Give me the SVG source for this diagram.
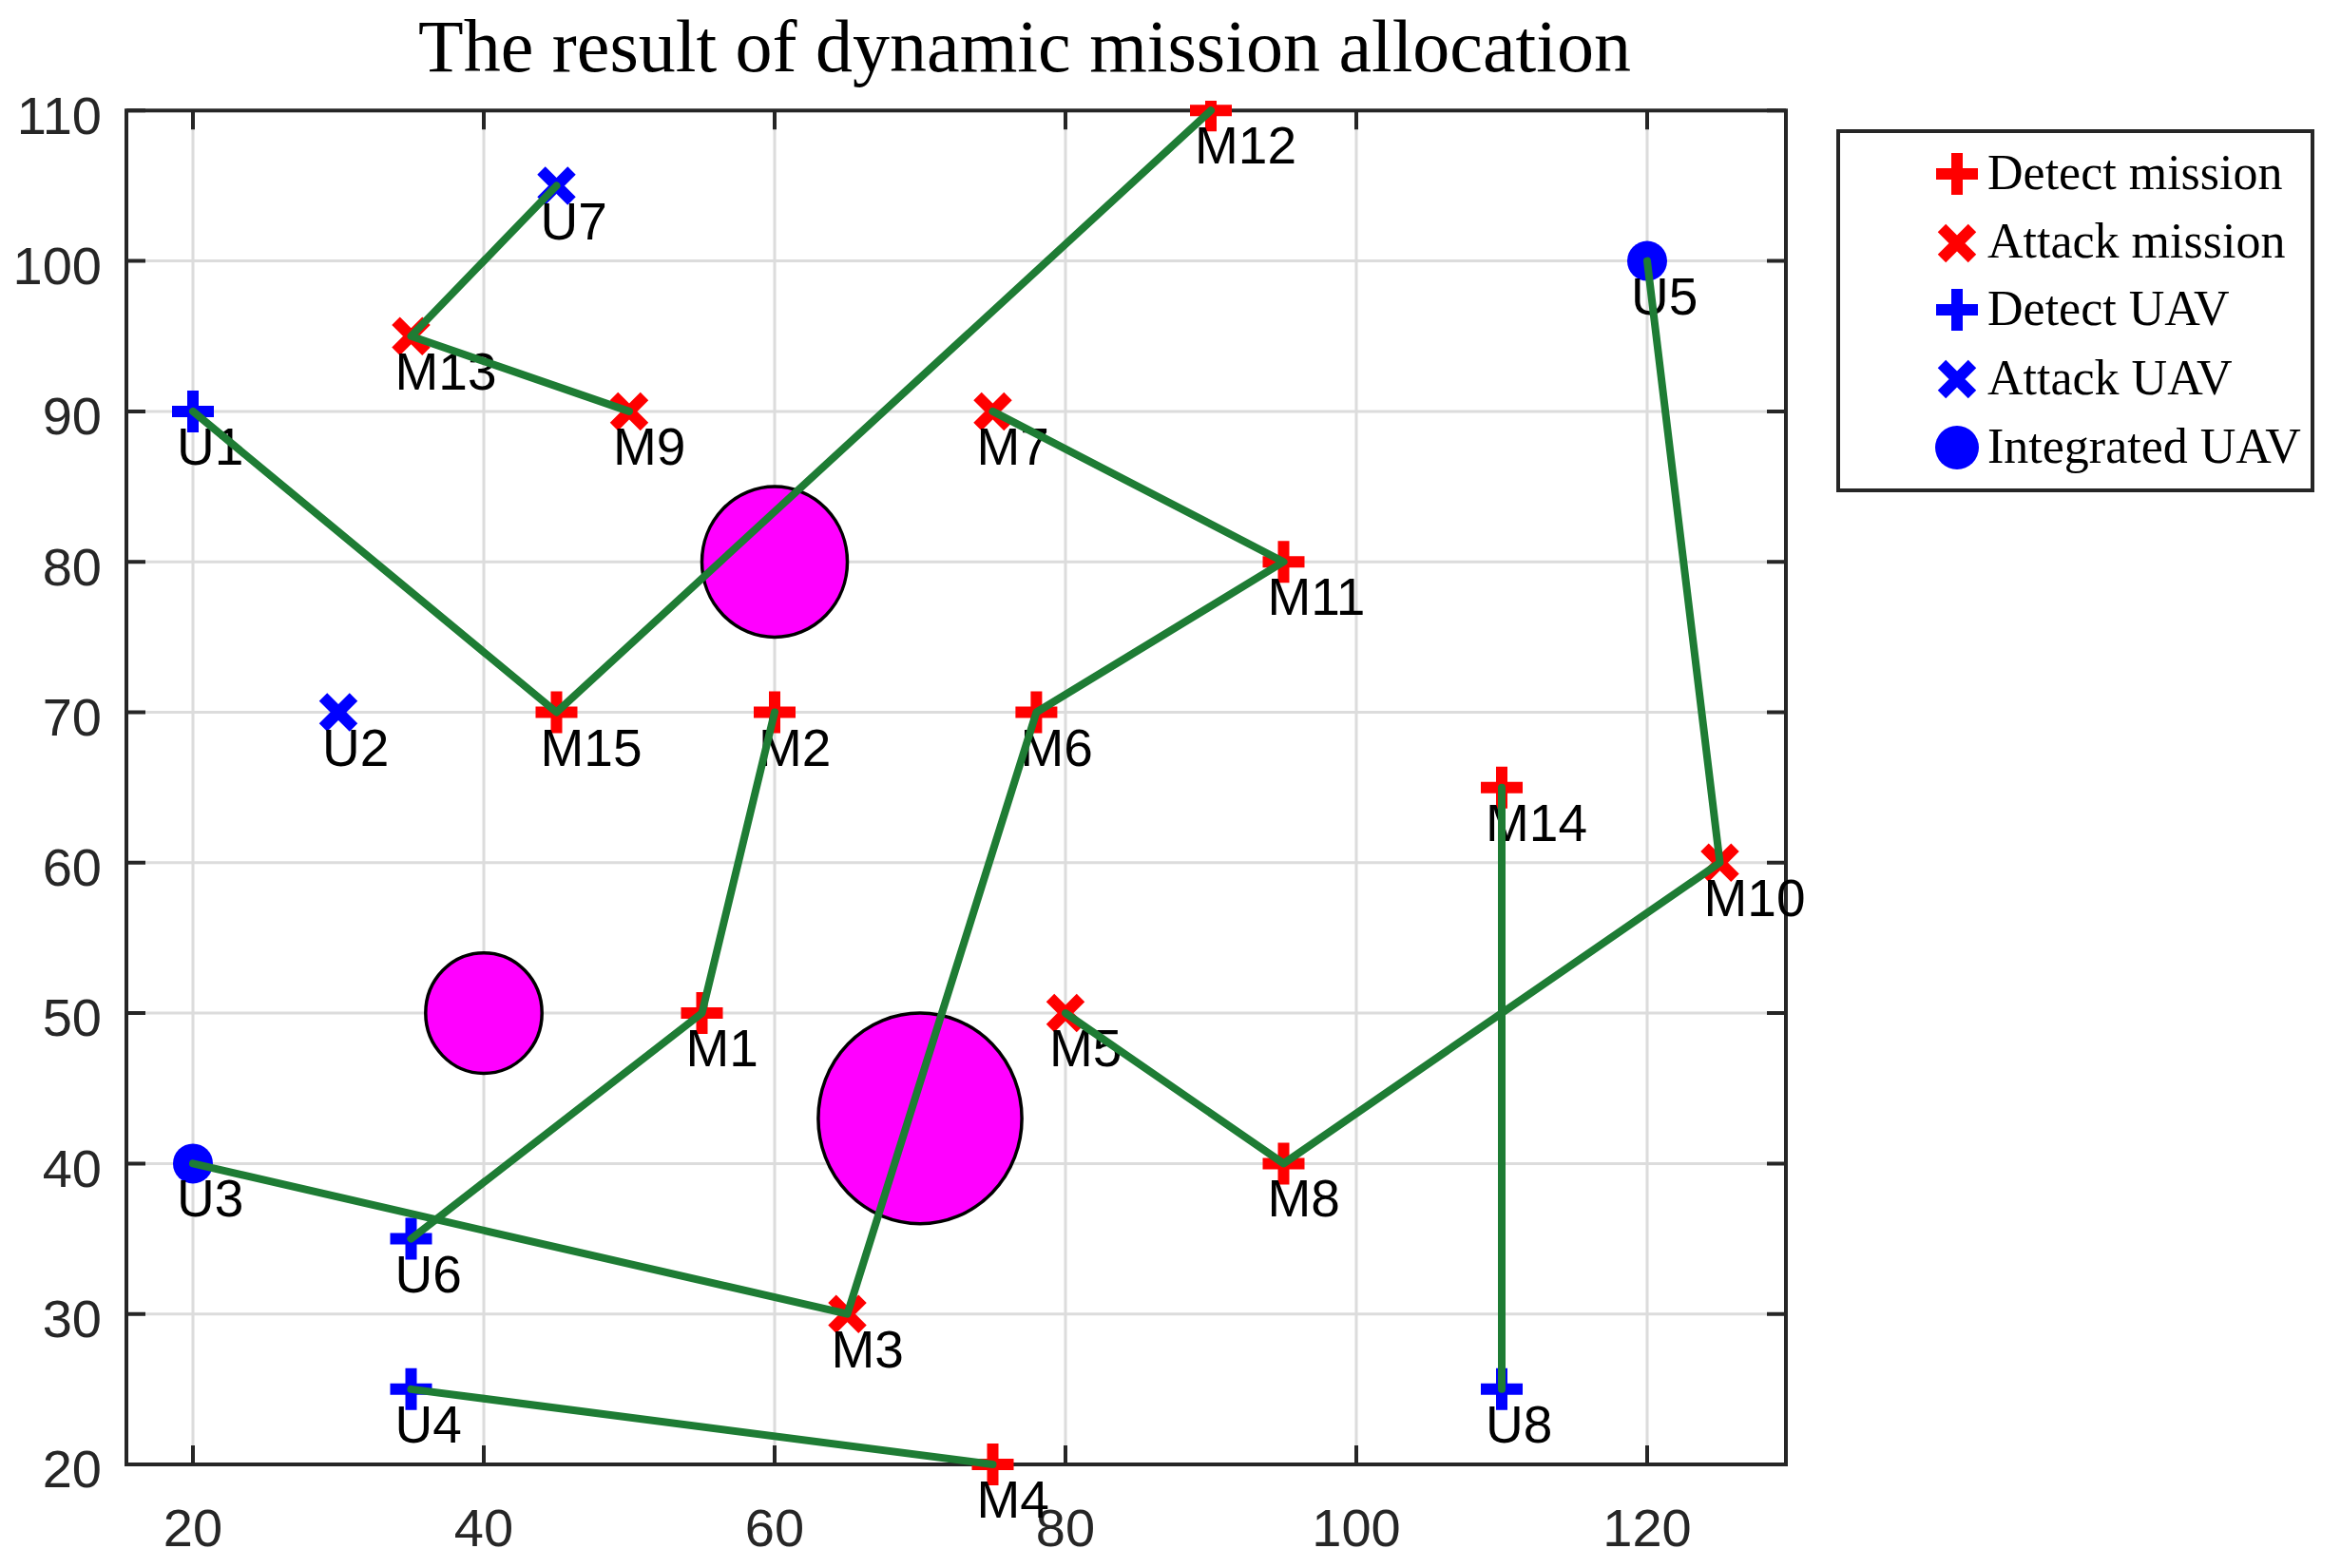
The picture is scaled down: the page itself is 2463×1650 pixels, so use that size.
<svg xmlns="http://www.w3.org/2000/svg" xmlns:xlink="http://www.w3.org/1999/xlink" width="2463" height="1650" viewBox="0 0 2463 1650">
<style>
.grid{stroke:#dcdcdc;stroke-width:3;fill:none}
.axis{stroke:#262626;stroke-width:4;fill:none}
.tick{stroke:#262626;stroke-width:4}
.tl{font-family:"Liberation Sans",Arial,sans-serif;font-size:56px;fill:#262626}
.lbl{font-family:"Liberation Sans",Arial,sans-serif;font-size:55px;fill:#000}
.title{font-family:"Liberation Serif","Times New Roman",serif;font-size:78px;fill:#000}
.leg{font-family:"Liberation Serif","Times New Roman",serif;font-size:52px;fill:#000}
.red{stroke:#ff0000;fill:#ff0000}
.blue{stroke:#0000ff;fill:#0000ff}
.obs{fill:#ff00ff;stroke:#000;stroke-width:3.5}
.route{stroke:#1e7c34;stroke-width:8;fill:none;stroke-linejoin:round;stroke-linecap:round}
</style>
<defs>
<g id="plus"><path d="M-22,0H22M0,-22V22" stroke-width="12" fill="none"/></g>
<g id="cross"><path d="M-16,-16L16,16M-16,16L16,-16" stroke-width="12" fill="none"/></g>
<g id="dot"><circle r="21" stroke="none"/></g>
<clipPath id="clipTop"><rect x="0" y="106" width="2463" height="1600"/></clipPath>
</defs>
<rect width="2463" height="1650" fill="#fff"/>
<text class="title" x="1078" y="75" text-anchor="middle">The result of dynamic mission allocation</text>
<g id="grid">
<path class="grid" d="M203,116V1541M509,116V1541M815,116V1541M1121,116V1541M1427,116V1541M1733,116V1541"/>
<path class="grid" d="M133,1382.7H1879M133,1224.4H1879M133,1066.1H1879M133,907.8H1879M133,749.5H1879M133,591.2H1879M133,432.9H1879M133,274.6H1879"/>
</g>
<g id="axes">
<rect class="axis" x="133" y="116.3" width="1746" height="1424.7"/>
<path class="tick" d="M203,1541v-20M509,1541v-20M815,1541v-20M1121,1541v-20M1427,1541v-20M1733,1541v-20M203,116.3v20M509,116.3v20M815,116.3v20M1121,116.3v20M1427,116.3v20M1733,116.3v20"/>
<path class="tick" d="M133,1382.7h20M133,1224.4h20M133,1066.1h20M133,907.8h20M133,749.5h20M133,591.2h20M133,432.9h20M133,274.6h20M133,116.3h20M133,1541h20M1879,1382.7h-20M1879,1224.4h-20M1879,1066.1h-20M1879,907.8h-20M1879,749.5h-20M1879,591.2h-20M1879,432.9h-20M1879,274.6h-20M1879,116.3h-20M1879,1541h-20"/>
<g class="tl" text-anchor="end">
<text x="107" y="141">110</text>
<text x="107" y="299">100</text>
<text x="107" y="457">90</text>
<text x="107" y="616">80</text>
<text x="107" y="774">70</text>
<text x="107" y="932">60</text>
<text x="107" y="1090">50</text>
<text x="107" y="1249">40</text>
<text x="107" y="1407">30</text>
<text x="107" y="1565">20</text>
</g>
<g class="tl" text-anchor="middle">
<text x="203" y="1627">20</text>
<text x="509" y="1627">40</text>
<text x="815" y="1627">60</text>
<text x="1121" y="1627">80</text>
<text x="1427" y="1627">100</text>
<text x="1733" y="1627">120</text>
</g>
</g>
<g id="obstacles">
<ellipse id="obstacle1" class="obs" cx="815" cy="591.2" rx="76.5" ry="79.2"/>
<ellipse id="obstacle2" class="obs" cx="509" cy="1066.1" rx="61.2" ry="63.3"/>
<ellipse id="obstacle3" class="obs" cx="968" cy="1176.9" rx="107.1" ry="110.8"/>
</g>
<g id="M1"><use href="#plus" class="red" x="738.5" y="1066.1"/><text class="lbl" x="721.5" y="1122">M1</text></g>
<g id="M2"><use href="#plus" class="red" x="815" y="749.5"/><text class="lbl" x="798" y="805.5">M2</text></g>
<g id="M3"><use href="#cross" class="red" x="891.5" y="1382.7"/><text class="lbl" x="874.5" y="1438.7">M3</text></g>
<g id="M4"><use href="#plus" class="red" x="1044.5" y="1541"/><text class="lbl" x="1027.5" y="1597">M4</text></g>
<g id="M5"><use href="#cross" class="red" x="1121" y="1066.1"/><text class="lbl" x="1104" y="1122">M5</text></g>
<g id="M6"><use href="#plus" class="red" x="1090.4" y="749.5"/><text class="lbl" x="1073.4" y="805.5">M6</text></g>
<g id="M7"><use href="#cross" class="red" x="1044.5" y="432.9"/><text class="lbl" x="1027.5" y="488.9">M7</text></g>
<g id="M8"><use href="#plus" class="red" x="1350.5" y="1224.4"/><text class="lbl" x="1333.5" y="1280.4">M8</text></g>
<g id="M9"><use href="#cross" class="red" x="662" y="432.9"/><text class="lbl" x="645" y="488.9">M9</text></g>
<g id="M10"><use href="#cross" class="red" x="1809.5" y="907.8"/><text class="lbl" x="1792.5" y="963.8">M10</text></g>
<g id="M11"><use href="#plus" class="red" x="1350.5" y="591.2"/><text class="lbl" x="1333.5" y="647.2">M11</text></g>
<g id="M12"><g clip-path="url(#clipTop)"><use href="#plus" class="red" x="1274" y="116.3"/></g><text class="lbl" x="1257" y="172.3">M12</text></g>
<g id="M13"><use href="#cross" class="red" x="432.5" y="353.75"/><text class="lbl" x="415.5" y="409.8">M13</text></g>
<g id="M14"><use href="#plus" class="red" x="1580" y="828.65"/><text class="lbl" x="1563" y="884.7">M14</text></g>
<g id="M15"><use href="#plus" class="red" x="585.5" y="749.5"/><text class="lbl" x="568.5" y="805.5">M15</text></g>
<g id="U1"><use href="#plus" class="blue" x="203" y="432.9"/><text class="lbl" x="186" y="488.9">U1</text></g>
<g id="U2"><use href="#cross" class="blue" x="356" y="749.5"/><text class="lbl" x="339" y="805.5">U2</text></g>
<g id="U3"><use href="#dot" class="blue" x="203" y="1224.4"/><text class="lbl" x="186" y="1280.4">U3</text></g>
<g id="U4"><use href="#plus" class="blue" x="432.5" y="1461.85"/><text class="lbl" x="415.5" y="1517.9">U4</text></g>
<g id="U5"><use href="#dot" class="blue" x="1733" y="274.6"/><text class="lbl" x="1716" y="330.6">U5</text></g>
<g id="U6"><use href="#plus" class="blue" x="432.5" y="1303.55"/><text class="lbl" x="415.5" y="1359.6">U6</text></g>
<g id="U7"><use href="#cross" class="blue" x="585.5" y="195.45"/><text class="lbl" x="568.5" y="251.5">U7</text></g>
<g id="U8"><use href="#plus" class="blue" x="1580" y="1461.85"/><text class="lbl" x="1563" y="1517.9">U8</text></g>
<g id="connectors">
<polyline class="route" points="585.5,195.45 432.5,353.75 662,432.9"/>
<polyline class="route" points="203,432.9 585.5,749.5 1274,116.3"/>
<polyline class="route" points="1733,274.6 1809.5,907.8 1350.5,1224.4 1121,1066.1"/>
<polyline class="route" points="1580,1461.85 1580,828.65"/>
<polyline class="route" points="203,1224.4 891.5,1382.7 1090.4,749.5 1350.5,591.2 1044.5,432.9"/>
<polyline class="route" points="432.5,1303.55 738.5,1066.1 815,749.5"/>
<polyline class="route" points="432.5,1461.85 1044.5,1541"/>
</g>
<g id="legend">
<rect x="1934" y="138" width="499" height="378" fill="#fff" stroke="#262626" stroke-width="4"/>
<use href="#plus" class="red" x="2059" y="183"/>
<use href="#cross" class="red" x="2059" y="256"/>
<use href="#plus" class="blue" x="2059" y="326"/>
<use href="#cross" class="blue" x="2059" y="399"/>
<circle cx="2059" cy="471" r="23" fill="#0000ff"/>
<text class="leg" x="2091" y="199">Detect mission</text>
<text class="leg" x="2091" y="271">Attack mission</text>
<text class="leg" x="2091" y="342">Detect UAV</text>
<text class="leg" x="2091" y="415">Attack UAV</text>
<text class="leg" x="2091" y="487">Integrated UAV</text>
</g>
</svg>
